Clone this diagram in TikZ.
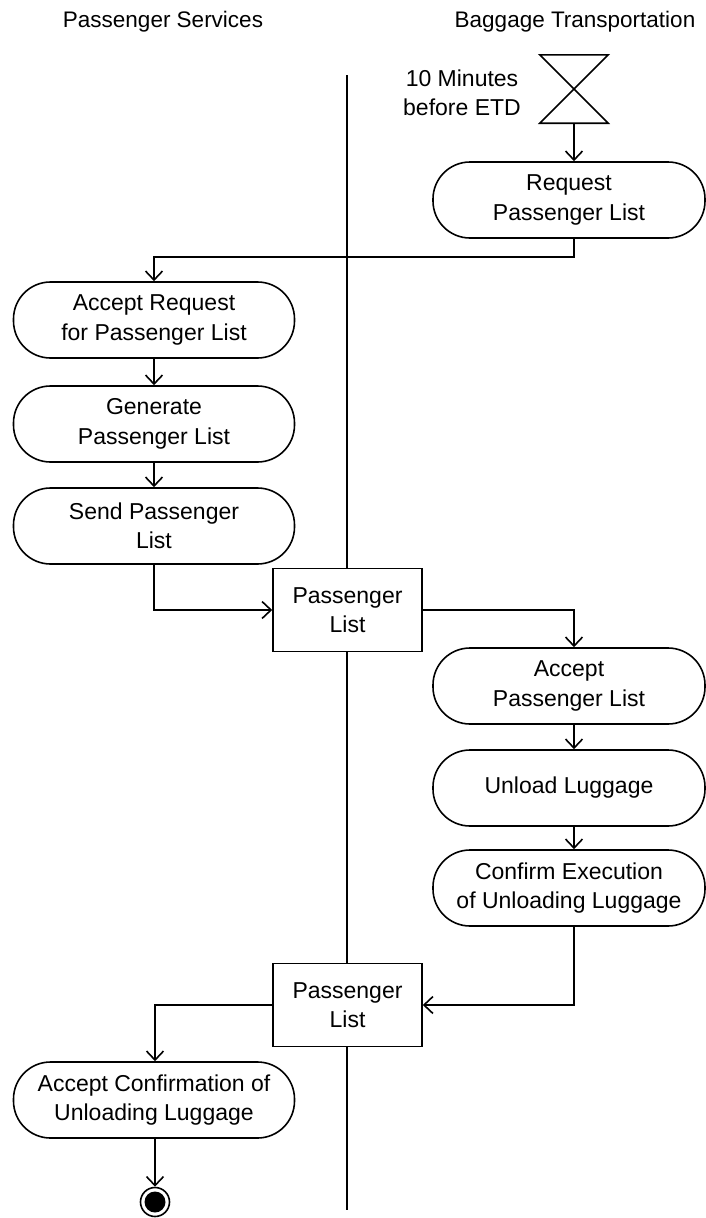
\documentclass[tikz,border=0pt]{standalone}
\usepackage{fontspec}
\setmainfont{Liberation Sans}
\usetikzlibrary{arrows.meta}
\begin{document}
\begin{tikzpicture}[x=1pt,y=-1pt,
  every node/.style={font=\fontsize{23}{29.5}\selectfont, inner sep=0pt},
  title/.style={font=\fontsize{22.5}{28}\selectfont},
  action/.style={draw, line width=1.6pt, rounded corners=37pt, fill=white,
    minimum width=272pt, minimum height=76pt, align=center},
  objbox/.style={draw, line width=1.6pt, fill=white, minimum width=149pt,
    minimum height=83pt, align=center},
  flow/.style={line width=1.6pt, -{Straight Barb[length=9pt,width=17pt,line width=1.6pt]}},
  lane/.style={line width=1.6pt}]
\useasboundingbox (0,0) rectangle (706,1218);
% titles
\node[title] (t1) at (163,22) {Passenger Services};
\node[title] (t2) at (575,22) {Baggage Transportation};
% lane separator
\coordinate (lt) at (347,75);
\coordinate (lb) at (347,1210);
\draw[lane] (lt) -- (lb);
% timer
\node[minimum width=68pt, minimum height=68pt] (timer) at (574,89) {};
\draw[line width=1.6pt, line join=miter] (timer.north west) -- (timer.north east) -- (timer.south west) -- (timer.south east) -- cycle;
\node[align=center] (tlab) at (462,93) {10 Minutes\\before ETD};
% actions
\node[action] (req) at (569,200) {Request\\Passenger List};
\node[action, minimum width=281pt] (acc) at (154,320) {Accept Request\\for Passenger List};
\node[action, minimum width=281pt] (gen) at (154,424) {Generate\\Passenger List};
\node[action, minimum width=281pt] (send) at (154,526) {Send Passenger\\List};
\node[objbox] (pl1) at (347.5,610) {Passenger\\List};
\node[action] (apl) at (569,686) {Accept\\Passenger List};
\node[action] (unl) at (569,788) {Unload Luggage};
\node[action] (conf) at (569,888) {Confirm Execution\\of Unloading Luggage};
\node[objbox] (pl2) at (347.5,1005) {Passenger\\List};
\node[action, minimum width=281pt] (acf) at (154,1100) {Accept Confirmation of\\Unloading Luggage};
\node[circle, draw, line width=1.6pt, minimum size=29pt] (fin) at (155,1202) {};
\fill (fin.center) circle (10.5pt);
% flows
\draw[flow] (timer.south) -- (timer.south |- req.north);
\draw[flow] (timer.south |- req.south) -- ++(0,18) -| (acc.north);
\draw[flow] (acc.south) -- (gen.north);
\draw[flow] (gen.south) -- (send.north);
\draw[flow] (send.south) |- (pl1.west);
\draw[flow] (pl1.east) -| (timer.south |- apl.north);
\draw[flow] (timer.south |- apl.south) -- (timer.south |- unl.north);
\draw[flow] (timer.south |- unl.south) -- (timer.south |- conf.north);
\draw[flow] (timer.south |- conf.south) |- (pl2.east);
\draw[flow] (pl2.west) -| (fin.north |- acf.north);
\draw[flow] (fin.north |- acf.south) -- (fin.north);
\end{tikzpicture}
\end{document}
